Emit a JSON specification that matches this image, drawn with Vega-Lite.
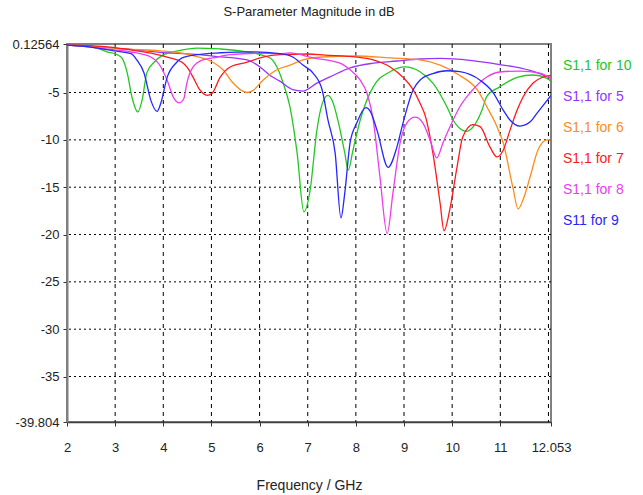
{
  "$schema": "https://vega.github.io/schema/vega-lite/v6.json",
  "width": 484,
  "height": 378,
  "autosize": {"type": "none"},
  "padding": {"left": 67, "top": 44, "right": 92, "bottom": 73},
  "background": "white",
  "title": {"text": "S-Parameter Magnitude in dB", "fontSize": 13, "fontWeight": "normal", "font": "Liberation Sans", "color": "#222222", "offset": 19},
  "config": {
    "view": {"stroke": "#808080", "strokeWidth": 2},
    "axis": {"labelFont": "Liberation Sans", "titleFont": "Liberation Sans", "labelColor": "#222222", "titleColor": "#222222", "tickColor": "#333333", "domainColor": "#707070"}
  },
  "datasets": {
    "curves": [
      {"s":"S1,1 for 10","f":2.0,"db":0.0},{"s":"S1,1 for 10","f":2.3,"db":-0.1},{"s":"S1,1 for 10","f":2.62,"db":-0.3},{"s":"S1,1 for 10","f":2.83,"db":-0.7},{"s":"S1,1 for 10","f":3.04,"db":-1.0},{"s":"S1,1 for 10","f":3.14,"db":-1.35},{"s":"S1,1 for 10","f":3.25,"db":-2.9},{"s":"S1,1 for 10","f":3.35,"db":-5.5},{"s":"S1,1 for 10","f":3.47,"db":-7.05},{"s":"S1,1 for 10","f":3.56,"db":-5.8},{"s":"S1,1 for 10","f":3.66,"db":-2.9},{"s":"S1,1 for 10","f":3.81,"db":-1.8},{"s":"S1,1 for 10","f":4.01,"db":-1.0},{"s":"S1,1 for 10","f":4.3,"db":-0.6},{"s":"S1,1 for 10","f":4.7,"db":-0.3},{"s":"S1,1 for 10","f":5.18,"db":-0.4},{"s":"S1,1 for 10","f":5.6,"db":-0.6},{"s":"S1,1 for 10","f":6.01,"db":-1.0},{"s":"S1,1 for 10","f":6.22,"db":-1.35},{"s":"S1,1 for 10","f":6.36,"db":-2.3},{"s":"S1,1 for 10","f":6.49,"db":-4.0},{"s":"S1,1 for 10","f":6.63,"db":-6.5},{"s":"S1,1 for 10","f":6.78,"db":-11.4},{"s":"S1,1 for 10","f":6.92,"db":-17.6},{"s":"S1,1 for 10","f":7.05,"db":-15.3},{"s":"S1,1 for 10","f":7.19,"db":-9.0},{"s":"S1,1 for 10","f":7.3,"db":-6.2},{"s":"S1,1 for 10","f":7.42,"db":-5.3},{"s":"S1,1 for 10","f":7.52,"db":-6.0},{"s":"S1,1 for 10","f":7.63,"db":-8.0},{"s":"S1,1 for 10","f":7.77,"db":-11.4},{"s":"S1,1 for 10","f":7.84,"db":-13.2},{"s":"S1,1 for 10","f":7.94,"db":-11.1},{"s":"S1,1 for 10","f":8.09,"db":-7.9},{"s":"S1,1 for 10","f":8.36,"db":-4.4},{"s":"S1,1 for 10","f":8.71,"db":-2.8},{"s":"S1,1 for 10","f":9.02,"db":-2.3},{"s":"S1,1 for 10","f":9.33,"db":-2.8},{"s":"S1,1 for 10","f":9.6,"db":-4.0},{"s":"S1,1 for 10","f":9.89,"db":-6.5},{"s":"S1,1 for 10","f":10.02,"db":-7.9},{"s":"S1,1 for 10","f":10.22,"db":-9.0},{"s":"S1,1 for 10","f":10.3,"db":-9.1},{"s":"S1,1 for 10","f":10.47,"db":-8.4},{"s":"S1,1 for 10","f":10.62,"db":-6.85},{"s":"S1,1 for 10","f":10.72,"db":-5.4},{"s":"S1,1 for 10","f":10.99,"db":-4.4},{"s":"S1,1 for 10","f":11.35,"db":-3.4},{"s":"S1,1 for 10","f":11.68,"db":-3.15},{"s":"S1,1 for 10","f":11.97,"db":-3.5},{"s":"S1,1 for 10","f":12.053,"db":-3.8},
      {"s":"S1,1 for 5","f":2.0,"db":0.0},{"s":"S1,1 for 5","f":2.6,"db":-0.15},{"s":"S1,1 for 5","f":3.2,"db":-0.4},{"s":"S1,1 for 5","f":3.93,"db":-0.75},{"s":"S1,1 for 5","f":4.76,"db":-1.0},{"s":"S1,1 for 5","f":5.03,"db":-1.15},{"s":"S1,1 for 5","f":5.74,"db":-1.56},{"s":"S1,1 for 5","f":6.01,"db":-2.3},{"s":"S1,1 for 5","f":6.22,"db":-3.2},{"s":"S1,1 for 5","f":6.42,"db":-3.8},{"s":"S1,1 for 5","f":6.69,"db":-4.7},{"s":"S1,1 for 5","f":6.9,"db":-4.85},{"s":"S1,1 for 5","f":7.19,"db":-4.0},{"s":"S1,1 for 5","f":7.52,"db":-3.2},{"s":"S1,1 for 5","f":7.88,"db":-2.4},{"s":"S1,1 for 5","f":8.36,"db":-1.9},{"s":"S1,1 for 5","f":8.85,"db":-1.67},{"s":"S1,1 for 5","f":9.33,"db":-1.46},{"s":"S1,1 for 5","f":9.75,"db":-1.4},{"s":"S1,1 for 5","f":10.37,"db":-1.6},{"s":"S1,1 for 5","f":10.93,"db":-2.0},{"s":"S1,1 for 5","f":11.41,"db":-2.4},{"s":"S1,1 for 5","f":11.82,"db":-3.0},{"s":"S1,1 for 5","f":12.053,"db":-3.5},
      {"s":"S1,1 for 6","f":2.0,"db":0.0},{"s":"S1,1 for 6","f":2.6,"db":-0.15},{"s":"S1,1 for 6","f":3.2,"db":-0.4},{"s":"S1,1 for 6","f":3.93,"db":-0.6},{"s":"S1,1 for 6","f":4.39,"db":-0.85},{"s":"S1,1 for 6","f":4.7,"db":-1.2},{"s":"S1,1 for 6","f":5.03,"db":-1.8},{"s":"S1,1 for 6","f":5.24,"db":-2.6},{"s":"S1,1 for 6","f":5.45,"db":-4.0},{"s":"S1,1 for 6","f":5.63,"db":-4.8},{"s":"S1,1 for 6","f":5.74,"db":-5.0},{"s":"S1,1 for 6","f":5.86,"db":-4.8},{"s":"S1,1 for 6","f":6.07,"db":-3.7},{"s":"S1,1 for 6","f":6.36,"db":-2.6},{"s":"S1,1 for 6","f":6.63,"db":-2.1},{"s":"S1,1 for 6","f":6.9,"db":-1.56},{"s":"S1,1 for 6","f":7.3,"db":-1.25},{"s":"S1,1 for 6","f":8.0,"db":-1.14},{"s":"S1,1 for 6","f":8.71,"db":-1.35},{"s":"S1,1 for 6","f":9.33,"db":-1.56},{"s":"S1,1 for 6","f":9.75,"db":-2.1},{"s":"S1,1 for 6","f":10.16,"db":-3.2},{"s":"S1,1 for 6","f":10.52,"db":-4.7},{"s":"S1,1 for 6","f":10.72,"db":-6.5},{"s":"S1,1 for 6","f":10.93,"db":-8.6},{"s":"S1,1 for 6","f":11.06,"db":-10.3},{"s":"S1,1 for 6","f":11.26,"db":-15.0},{"s":"S1,1 for 6","f":11.37,"db":-17.3},{"s":"S1,1 for 6","f":11.47,"db":-16.35},{"s":"S1,1 for 6","f":11.62,"db":-13.9},{"s":"S1,1 for 6","f":11.78,"db":-11.1},{"s":"S1,1 for 6","f":11.97,"db":-10.0},{"s":"S1,1 for 6","f":12.053,"db":-10.0},
      {"s":"S1,1 for 7","f":2.0,"db":0.0},{"s":"S1,1 for 7","f":2.89,"db":-0.2},{"s":"S1,1 for 7","f":3.33,"db":-0.5},{"s":"S1,1 for 7","f":3.74,"db":-0.85},{"s":"S1,1 for 7","f":4.1,"db":-1.3},{"s":"S1,1 for 7","f":4.39,"db":-1.8},{"s":"S1,1 for 7","f":4.49,"db":-2.3},{"s":"S1,1 for 7","f":4.62,"db":-3.4},{"s":"S1,1 for 7","f":4.76,"db":-4.73},{"s":"S1,1 for 7","f":4.91,"db":-5.3},{"s":"S1,1 for 7","f":5.01,"db":-5.1},{"s":"S1,1 for 7","f":5.18,"db":-3.4},{"s":"S1,1 for 7","f":5.39,"db":-2.3},{"s":"S1,1 for 7","f":5.74,"db":-1.8},{"s":"S1,1 for 7","f":6.07,"db":-1.25},{"s":"S1,1 for 7","f":6.42,"db":-1.0},{"s":"S1,1 for 7","f":7.0,"db":-0.93},{"s":"S1,1 for 7","f":7.36,"db":-1.04},{"s":"S1,1 for 7","f":8.02,"db":-1.25},{"s":"S1,1 for 7","f":8.36,"db":-1.56},{"s":"S1,1 for 7","f":8.71,"db":-2.3},{"s":"S1,1 for 7","f":8.98,"db":-3.4},{"s":"S1,1 for 7","f":9.19,"db":-4.7},{"s":"S1,1 for 7","f":9.33,"db":-6.1},{"s":"S1,1 for 7","f":9.45,"db":-7.6},{"s":"S1,1 for 7","f":9.6,"db":-11.4},{"s":"S1,1 for 7","f":9.75,"db":-16.7},{"s":"S1,1 for 7","f":9.83,"db":-19.6},{"s":"S1,1 for 7","f":9.95,"db":-17.4},{"s":"S1,1 for 7","f":10.1,"db":-12.9},{"s":"S1,1 for 7","f":10.22,"db":-9.7},{"s":"S1,1 for 7","f":10.43,"db":-8.4},{"s":"S1,1 for 7","f":10.58,"db":-8.6},{"s":"S1,1 for 7","f":10.79,"db":-10.8},{"s":"S1,1 for 7","f":10.93,"db":-11.8},{"s":"S1,1 for 7","f":11.06,"db":-11.1},{"s":"S1,1 for 7","f":11.2,"db":-9.0},{"s":"S1,1 for 7","f":11.35,"db":-6.85},{"s":"S1,1 for 7","f":11.47,"db":-5.5},{"s":"S1,1 for 7","f":11.68,"db":-4.0},{"s":"S1,1 for 7","f":11.89,"db":-3.36},{"s":"S1,1 for 7","f":12.053,"db":-3.2},
      {"s":"S1,1 for 8","f":2.0,"db":0.0},{"s":"S1,1 for 8","f":2.5,"db":-0.2},{"s":"S1,1 for 8","f":3.0,"db":-0.5},{"s":"S1,1 for 8","f":3.33,"db":-0.72},{"s":"S1,1 for 8","f":3.74,"db":-1.25},{"s":"S1,1 for 8","f":3.95,"db":-2.3},{"s":"S1,1 for 8","f":4.08,"db":-3.7},{"s":"S1,1 for 8","f":4.22,"db":-5.6},{"s":"S1,1 for 8","f":4.33,"db":-6.1},{"s":"S1,1 for 8","f":4.43,"db":-5.6},{"s":"S1,1 for 8","f":4.49,"db":-4.0},{"s":"S1,1 for 8","f":4.62,"db":-2.3},{"s":"S1,1 for 8","f":4.82,"db":-1.56},{"s":"S1,1 for 8","f":5.03,"db":-1.35},{"s":"S1,1 for 8","f":5.39,"db":-1.0},{"s":"S1,1 for 8","f":6.0,"db":-0.85},{"s":"S1,1 for 8","f":6.42,"db":-0.9},{"s":"S1,1 for 8","f":6.63,"db":-0.82},{"s":"S1,1 for 8","f":7.11,"db":-1.35},{"s":"S1,1 for 8","f":7.67,"db":-1.9},{"s":"S1,1 for 8","f":7.88,"db":-2.6},{"s":"S1,1 for 8","f":8.09,"db":-3.7},{"s":"S1,1 for 8","f":8.23,"db":-5.05},{"s":"S1,1 for 8","f":8.36,"db":-7.9},{"s":"S1,1 for 8","f":8.5,"db":-13.9},{"s":"S1,1 for 8","f":8.65,"db":-19.9},{"s":"S1,1 for 8","f":8.77,"db":-15.6},{"s":"S1,1 for 8","f":8.92,"db":-10.3},{"s":"S1,1 for 8","f":9.06,"db":-8.2},{"s":"S1,1 for 8","f":9.23,"db":-7.6},{"s":"S1,1 for 8","f":9.39,"db":-8.2},{"s":"S1,1 for 8","f":9.54,"db":-10.0},{"s":"S1,1 for 8","f":9.68,"db":-11.9},{"s":"S1,1 for 8","f":9.81,"db":-10.3},{"s":"S1,1 for 8","f":10.02,"db":-7.9},{"s":"S1,1 for 8","f":10.16,"db":-6.5},{"s":"S1,1 for 8","f":10.37,"db":-5.05},{"s":"S1,1 for 8","f":10.72,"db":-3.36},{"s":"S1,1 for 8","f":10.99,"db":-2.83},{"s":"S1,1 for 8","f":11.41,"db":-2.73},{"s":"S1,1 for 8","f":11.82,"db":-2.94},{"s":"S1,1 for 8","f":12.053,"db":-3.5},
      {"s":"S11 for 9","f":2.0,"db":0.0},{"s":"S11 for 9","f":2.5,"db":-0.2},{"s":"S11 for 9","f":2.98,"db":-0.6},{"s":"S11 for 9","f":3.33,"db":-0.9},{"s":"S11 for 9","f":3.45,"db":-1.56},{"s":"S11 for 9","f":3.6,"db":-2.94},{"s":"S11 for 9","f":3.74,"db":-5.8},{"s":"S11 for 9","f":3.87,"db":-7.0},{"s":"S11 for 9","f":3.95,"db":-6.1},{"s":"S11 for 9","f":4.08,"db":-3.4},{"s":"S11 for 9","f":4.28,"db":-1.8},{"s":"S11 for 9","f":4.39,"db":-1.35},{"s":"S11 for 9","f":4.7,"db":-1.0},{"s":"S11 for 9","f":5.2,"db":-0.8},{"s":"S11 for 9","f":5.8,"db":-0.7},{"s":"S11 for 9","f":6.42,"db":-0.9},{"s":"S11 for 9","f":6.69,"db":-1.25},{"s":"S11 for 9","f":6.9,"db":-2.1},{"s":"S11 for 9","f":7.11,"db":-2.94},{"s":"S11 for 9","f":7.3,"db":-4.73},{"s":"S11 for 9","f":7.42,"db":-7.9},{"s":"S11 for 9","f":7.57,"db":-11.4},{"s":"S11 for 9","f":7.69,"db":-18.25},{"s":"S11 for 9","f":7.77,"db":-15.6},{"s":"S11 for 9","f":7.88,"db":-10.3},{"s":"S11 for 9","f":8.02,"db":-8.2},{"s":"S11 for 9","f":8.21,"db":-6.6},{"s":"S11 for 9","f":8.3,"db":-7.0},{"s":"S11 for 9","f":8.44,"db":-9.0},{"s":"S11 for 9","f":8.67,"db":-12.9},{"s":"S11 for 9","f":8.85,"db":-10.8},{"s":"S11 for 9","f":8.98,"db":-8.2},{"s":"S11 for 9","f":9.19,"db":-4.7},{"s":"S11 for 9","f":9.33,"db":-3.7},{"s":"S11 for 9","f":9.6,"db":-3.0},{"s":"S11 for 9","f":9.89,"db":-2.7},{"s":"S11 for 9","f":10.16,"db":-2.8},{"s":"S11 for 9","f":10.58,"db":-3.7},{"s":"S11 for 9","f":10.85,"db":-5.0},{"s":"S11 for 9","f":11.06,"db":-6.85},{"s":"S11 for 9","f":11.2,"db":-7.9},{"s":"S11 for 9","f":11.41,"db":-8.54},{"s":"S11 for 9","f":11.62,"db":-8.1},{"s":"S11 for 9","f":11.76,"db":-7.2},{"s":"S11 for 9","f":12.053,"db":-5.3}
    ],
    "vgrid": [{"f":3},{"f":4},{"f":5},{"f":6},{"f":7},{"f":8},{"f":9},{"f":10},{"f":11},{"f":12}],
    "hgrid": [{"db":-5},{"db":-10},{"db":-15},{"db":-20},{"db":-25},{"db":-30},{"db":-35}]
  },
  "layer": [
    {
      "data": {"name": "vgrid"},
      "mark": {"type": "rule", "color": "#000000", "strokeWidth": 1, "strokeDash": [4, 4]},
      "encoding": {"x": {"field": "f", "type": "quantitative", "scale": {"domain": [2, 12.053], "nice": false, "zero": false}}}
    },
    {
      "data": {"name": "hgrid"},
      "mark": {"type": "rule", "color": "#000000", "strokeWidth": 1, "strokeDash": [2, 3]},
      "encoding": {"y": {"field": "db", "type": "quantitative", "scale": {"domain": [-39.804, 0.12564], "nice": false, "zero": false}}}
    },
    {
      "data": {"name": "curves"},
      "mark": {"type": "line", "interpolate": "monotone", "strokeWidth": 1.3, "clip": true},
      "encoding": {
        "x": {"field": "f", "type": "quantitative", "scale": {"domain": [2, 12.053], "nice": false, "zero": false},
              "axis": {"values": [2,3,4,5,6,7,8,9,10,11,12.053], "labelExpr": "'' + datum.value", "grid": false, "title": "Frequency / GHz", "titleFontSize": 14, "titleFontWeight": "normal", "titlePadding": 24, "labelFontSize": 13, "labelPadding": 15, "tickSize": 4, "domainColor": "#404040", "domainWidth": 1.5, "labelFlush": false}},
        "y": {"field": "db", "type": "quantitative", "scale": {"domain": [-39.804, 0.12564], "nice": false, "zero": false},
              "axis": {"values": [0.12564,-5,-10,-15,-20,-25,-30,-35,-39.804], "labelExpr": "'' + datum.value", "grid": false, "title": null, "labelFontSize": 13, "labelPadding": 4, "tickSize": 4, "domainColor": "#808080", "domainWidth": 2, "labelFlush": false}},
        "color": {"field": "s", "type": "nominal",
                  "scale": {"domain": ["S1,1 for 10","S1,1 for 5","S1,1 for 6","S1,1 for 7","S1,1 for 8","S11 for 9"],
                            "range": ["#22c822","#9933ff","#ff8c1a","#ff1a1a","#ee3cee","#2626ff"]},
                  "legend": {"orient": "none", "legendX": 482, "legendY": 15, "title": null, "symbolSize": 0, "symbolStrokeWidth": 0, "symbolOpacity": 0, "labelOffset": 0, "labelFontSize": 14, "labelFont": "Liberation Sans", "rowPadding": 17,
                             "encode": {"labels": {"update": {"fill": {"scale": "color", "field": "value"}}}}}}
      }
    }
  ]
}
